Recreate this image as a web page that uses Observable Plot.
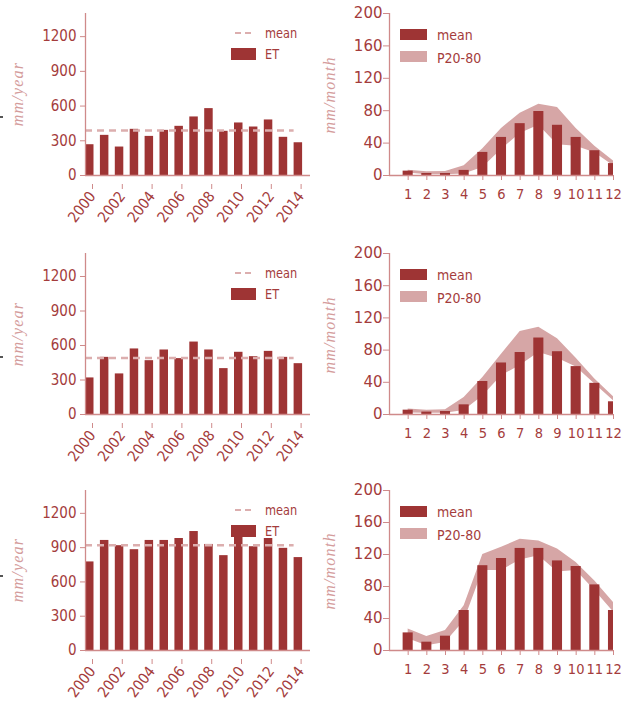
<!DOCTYPE html>
<html><head><meta charset="utf-8">
<script src="https://cdn.jsdelivr.net/npm/d3@7"></script>
<script src="https://cdn.jsdelivr.net/npm/@observablehq/plot@0.6"></script>
<style>
body{margin:0;background:#fff;}
#root{position:relative;width:634px;height:702px;overflow:hidden;font-family:"DejaVu Sans",sans-serif;}
.panel{position:absolute;}
.ylab{position:absolute;font-family:"Liberation Serif","DejaVu Serif",serif;font-style:italic;font-size:16px;letter-spacing:1.2px;color:#d49c9c;transform:translate(-50%,-50%) rotate(-90deg);white-space:nowrap;}
.lt{position:absolute;color:#a43c3c;white-space:nowrap;transform:translateY(-50%);line-height:1;}
.cond{font-family:"DejaVu Sans Condensed","DejaVu Sans",sans-serif;font-stretch:condensed;}
.sq{transform:translateY(-50%) scaleX(0.9);transform-origin:left center;}
.lp{position:absolute;}
.mk{position:absolute;left:0;width:3px;height:2px;background:#555;}
</style>
</head><body><div id="root"></div>
<script>
// ---- data ----
const years = [2000,2001,2002,2003,2004,2005,2006,2007,2008,2009,2010,2011,2012,2013,2014];
const yearTicks = [2000,2002,2004,2006,2008,2010,2012,2014];
const annualTicks = [0,300,600,900,1200];
const etA = [266,347,246,399,338,390,425,506,578,382,454,419,480,330,283];
const etB = [318,497,353,570,468,561,486,630,561,399,541,503,549,497,442];
const etC = [775,963,917,882,963,963,980,1041,928,830,990,908,980,894,813];

const months = [1,2,3,4,5,6,7,8,9,10,11,12];
const monthlyTicks = [0,40,80,120,160,200];
const meanA = [5.4,2.5,2.5,6.3,28.5,47,64,79,62,47,30.6,14.7];
const lowA  = [3,1,1,2,10,32,52,62,38,36,28,12];
const highA = [6.5,4.5,5,12,33,58,77,88,84,58,36,18];
const meanB = [5.4,3,3.7,12,41,64,77,95,78,59.5,38.7,15.8];
const lowB  = [2,1.7,1.7,5,23,48,61,77,70,59,38,17];
const highB = [6.7,5.4,5.8,21,46,75,103,108.5,94,70,44,22];
const meanC = [22,10.4,17.9,50,106,115,127.6,127.6,112,105,82,50];
const lowC  = [14.6,6,10,37,100,100,113,118.5,98,100,75,48];
const highC = [27,17.5,25,56,120,129,139,137,127,110,87,60];

const legendLeft = ["mean","ET"];
const legendRight = ["mean","P20-80"];

// ---- style ----
const C = {bar:"#9e3434", text:"#a43c3c", spine:"#cf8a8a", band:"#d6a6a6", mean:"#dcaeae"};
const FONT = '"DejaVu Sans",sans-serif';
const FONTC = '"DejaVu Sans Condensed","DejaVu Sans",sans-serif';

function leftChart(et, inner){
  const rows = years.map((y,i)=>({year:y, v:et[i]}));
  const m = d3.mean(et);
  return Plot.plot({
    width:317, height:13+inner+57, marginTop:13, marginBottom:57, marginLeft:85, marginRight:7,
    style:{fontFamily:FONTC, fontStretch:"condensed", background:"transparent", overflow:"visible"},
    x:{domain:[2000,2015.1]}, y:{domain:[0,1400]},
    marks:[
      Plot.rect(rows,{x1:"year", x2:d=>d.year+0.57, y1:0, y2:"v", fill:C.bar}),
      Plot.ruleY([m],{x1:years[0], x2:years[years.length-1], stroke:C.mean, strokeWidth:2.5, strokeDasharray:"7,5"}),
      Plot.ruleX([2000],{stroke:C.spine, strokeWidth:1.3}),
      Plot.ruleY([0],{stroke:C.spine, strokeWidth:1.3}),
      Plot.axisY(annualTicks,{tickSize:5, tickPadding:4, fontSize:15, fill:C.text, stroke:C.spine, label:null, tickFormat:d=>String(d)}),
      Plot.axisX(yearTicks,{tickSize:5, tickPadding:4, tickRotate:-52, dx:7, dy:9, fontSize:15, fill:C.text, stroke:C.spine, label:null, tickFormat:d=>String(d)})
    ]
  });
}
function rightChart(mean, low, high, inner){
  const rows = months.map((mo,i)=>({m:mo, v:mean[i], lo:low[i], hi:high[i]}));
  const svg = Plot.plot({
    width:317, height:13+inner+57, marginTop:13, marginBottom:57, marginLeft:72, marginRight:21,
    style:{fontFamily:FONT, background:"transparent", overflow:"visible"},
    x:{domain:[0,12]}, y:{domain:[0,200]},
    marks:[
      Plot.areaY(rows,{x:"m", y1:"lo", y2:"hi", fill:C.band}),
      Plot.rect(rows,{x1:d=>d.m-0.27, x2:d=>d.m+0.27, y1:0, y2:"v", fill:C.bar, clip:true}),
      Plot.ruleX([0],{stroke:C.spine, strokeWidth:1.3}),
      Plot.ruleY([0],{stroke:C.spine, strokeWidth:1.3}),
      Plot.axisY(monthlyTicks,{tickSize:6, tickPadding:1, fontSize:15, fill:C.text, stroke:C.spine, label:null}),
      Plot.axisX(months,{tickSize:5, tickPadding:8, fontSize:14.5, fontFamily:FONTC, fill:C.text, stroke:C.spine, label:null})
    ]
  });
  d3.select(svg).selectAll('g[aria-label="x-axis tick label"]').style("font-stretch","condensed");
  return svg;
}

const root = document.getElementById("root");
function add(el, left, top){ el.classList.add("panel"); el.style.left=left+"px"; el.style.top=top+"px"; root.appendChild(el); }
function div(cls, css, text){ const d=document.createElement("div"); d.className=cls; Object.assign(d.style, css); if(text!=null) d.textContent=text; root.appendChild(d); return d; }

const rowsSpec = [
  {top:0, inner:162, et:etA, mean:meanA, low:lowA, high:highA, mark:116},
  {top:240, inner:161, et:etB, mean:meanB, low:lowB, high:highB, mark:356},
  {top:477, inner:160, et:etC, mean:meanC, low:lowC, high:highC, mark:575}
];
rowsSpec.forEach(r=>{
  add(leftChart(r.et, r.inner), 0, r.top);
  add(rightChart(r.mean, r.low, r.high, r.inner), 317, r.top);
  const mid = r.top + 13 + r.inner/2;
  div("ylab", {left:"18px", top:mid+"px"}, "mm/year");
  div("ylab", {left:"330px", top:(mid+1)+"px"}, "mm/month");
  // left legend
  div("lp", {left:"235px", top:(r.top+32)+"px", width:"16px", height:"0", borderTop:"2.5px dashed "+C.mean});
  div("lt cond sq", {left:"265px", top:(r.top+33)+"px", fontSize:"14px"}, legendLeft[0]);
  div("lp", {left:"231px", top:(r.top+48)+"px", width:"25px", height:"12px", background:C.bar});
  div("lt cond sq", {left:"265px", top:(r.top+54)+"px", fontSize:"14px"}, legendLeft[1]);
  // right legend
  div("lp", {left:"400px", top:(r.top+29)+"px", width:"27px", height:"11px", background:C.bar});
  div("lt cond", {left:"437px", top:(r.top+35)+"px", fontSize:"14px"}, legendRight[0]);
  div("lp", {left:"400px", top:(r.top+51)+"px", width:"27px", height:"11px", background:C.band});
  div("lt cond", {left:"437px", top:(r.top+58)+"px", fontSize:"14px"}, legendRight[1]);
  div("mk", {top:r.mark+"px"});
});
</script>
</body></html>
